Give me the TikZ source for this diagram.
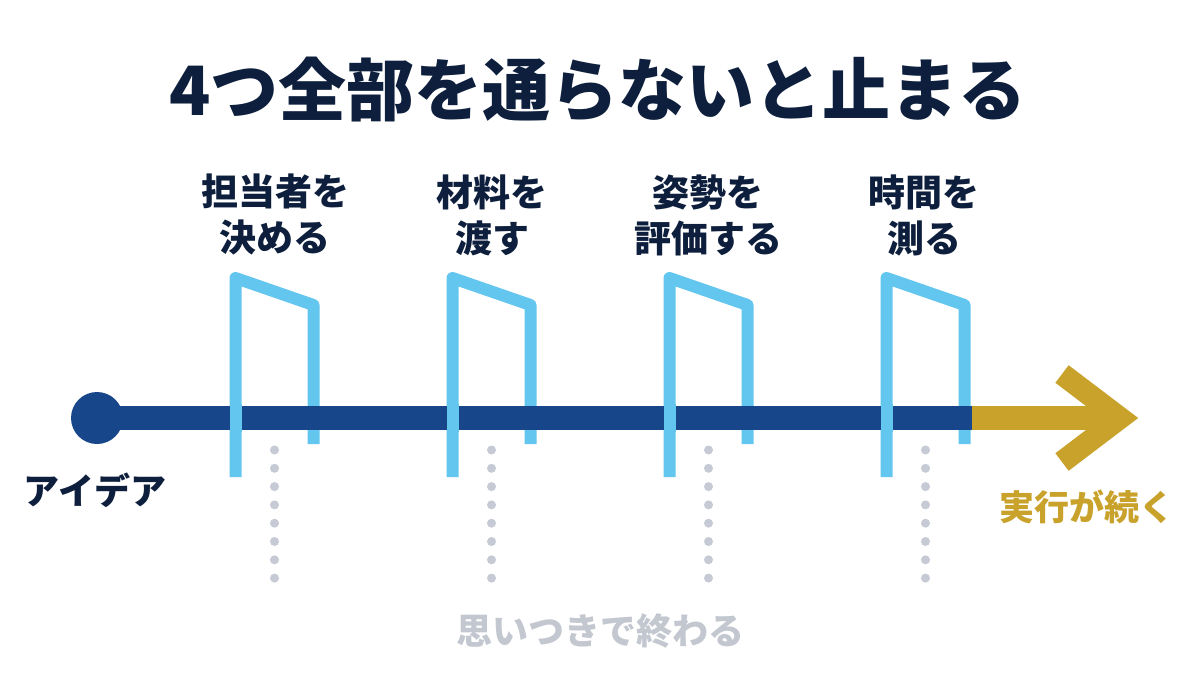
\documentclass[tikz,border=0pt]{standalone}
\usepackage{fontspec}
\newfontfamily\jp{Noto Sans CJK JP}
\newfontfamily\jpblack{Noto Sans CJK JP Black}
\definecolor{navy}{HTML}{0D1F3C}
\definecolor{barblue}{HTML}{17468A}
\definecolor{gateblue}{HTML}{63C6EE}
\definecolor{goldc}{HTML}{C9A22C}
\definecolor{dotgray}{HTML}{C5CAD4}
\definecolor{graytext}{HTML}{C3C7CF}
\begin{document}
\begin{tikzpicture}[x=1pt,y=-1pt,
  gatestyle/.style={draw=gateblue, line width=12pt, line join=round},
  barstyle/.style={draw=barblue, line width=24pt},
  labelstyle/.style={font=\jpblack\fontsize{37}{46}\selectfont, text=navy, align=center, inner sep=0pt},
  dotstyle/.style={fill=dotgray},
]
\useasboundingbox (0,0) rectangle (1200,691);
\fill[white] (0,0) rectangle (1200,691);

% gates (behind the bar)
\foreach \gx in {235.5,452.5,669.5,886.5} {
  \draw[gatestyle] (\gx,477) -- (\gx,278) -- (\gx+78,305) -- (\gx+78,444);
}

% main bar
\coordinate (start) at (97,418);
\coordinate (goldstart) at (972,418);
\coordinate (tipv) at (1118,418);
\draw[barstyle] (start) -- (goldstart);
\fill[barblue] (start) circle (26);
\draw[draw=goldc, line width=24pt] (goldstart) -- (tipv);
\draw[draw=goldc, line width=22pt, line join=miter] (1062,374) -- (1120,418) -- (1062,462);

% left posts in front of the bar
\foreach \gx in {235.5,452.5,669.5,886.5} {
  \draw[draw=gateblue, line width=12pt] (\gx,404) -- (\gx,432);
  \foreach \k in {0,...,7} {
    \fill[dotstyle] (\gx+39,450+18.3*\k) circle (4.5);
  }
}

% texts
\node[font=\jpblack\fontsize{68}{72}\selectfont, text=navy, inner sep=0pt] (title) at (598,90) {4つ全部を通らないと止まる};
\node[labelstyle] (g1) at (275,215) {担当者を\\決める};
\node[labelstyle] (g2) at (492,215) {材料を\\渡す};
\node[labelstyle] (g3) at (708,215) {姿勢を\\評価する};
\node[labelstyle] (g4) at (924,215) {時間を\\測る};
\node[font=\jpblack\fontsize{36}{40}\selectfont, text=navy, inner sep=0pt] (idea) at (95,490) {アイデア};
\node[font=\jp\bfseries\fontsize{35}{40}\selectfont, text=goldc, inner sep=0pt] (cont) at (1087,507) {実行が続く};
\node[font=\jp\bfseries\fontsize{36}{40}\selectfont, text=graytext, inner sep=0pt] (fail) at (600,631) {思いつきで終わる};
\end{tikzpicture}
\end{document}
